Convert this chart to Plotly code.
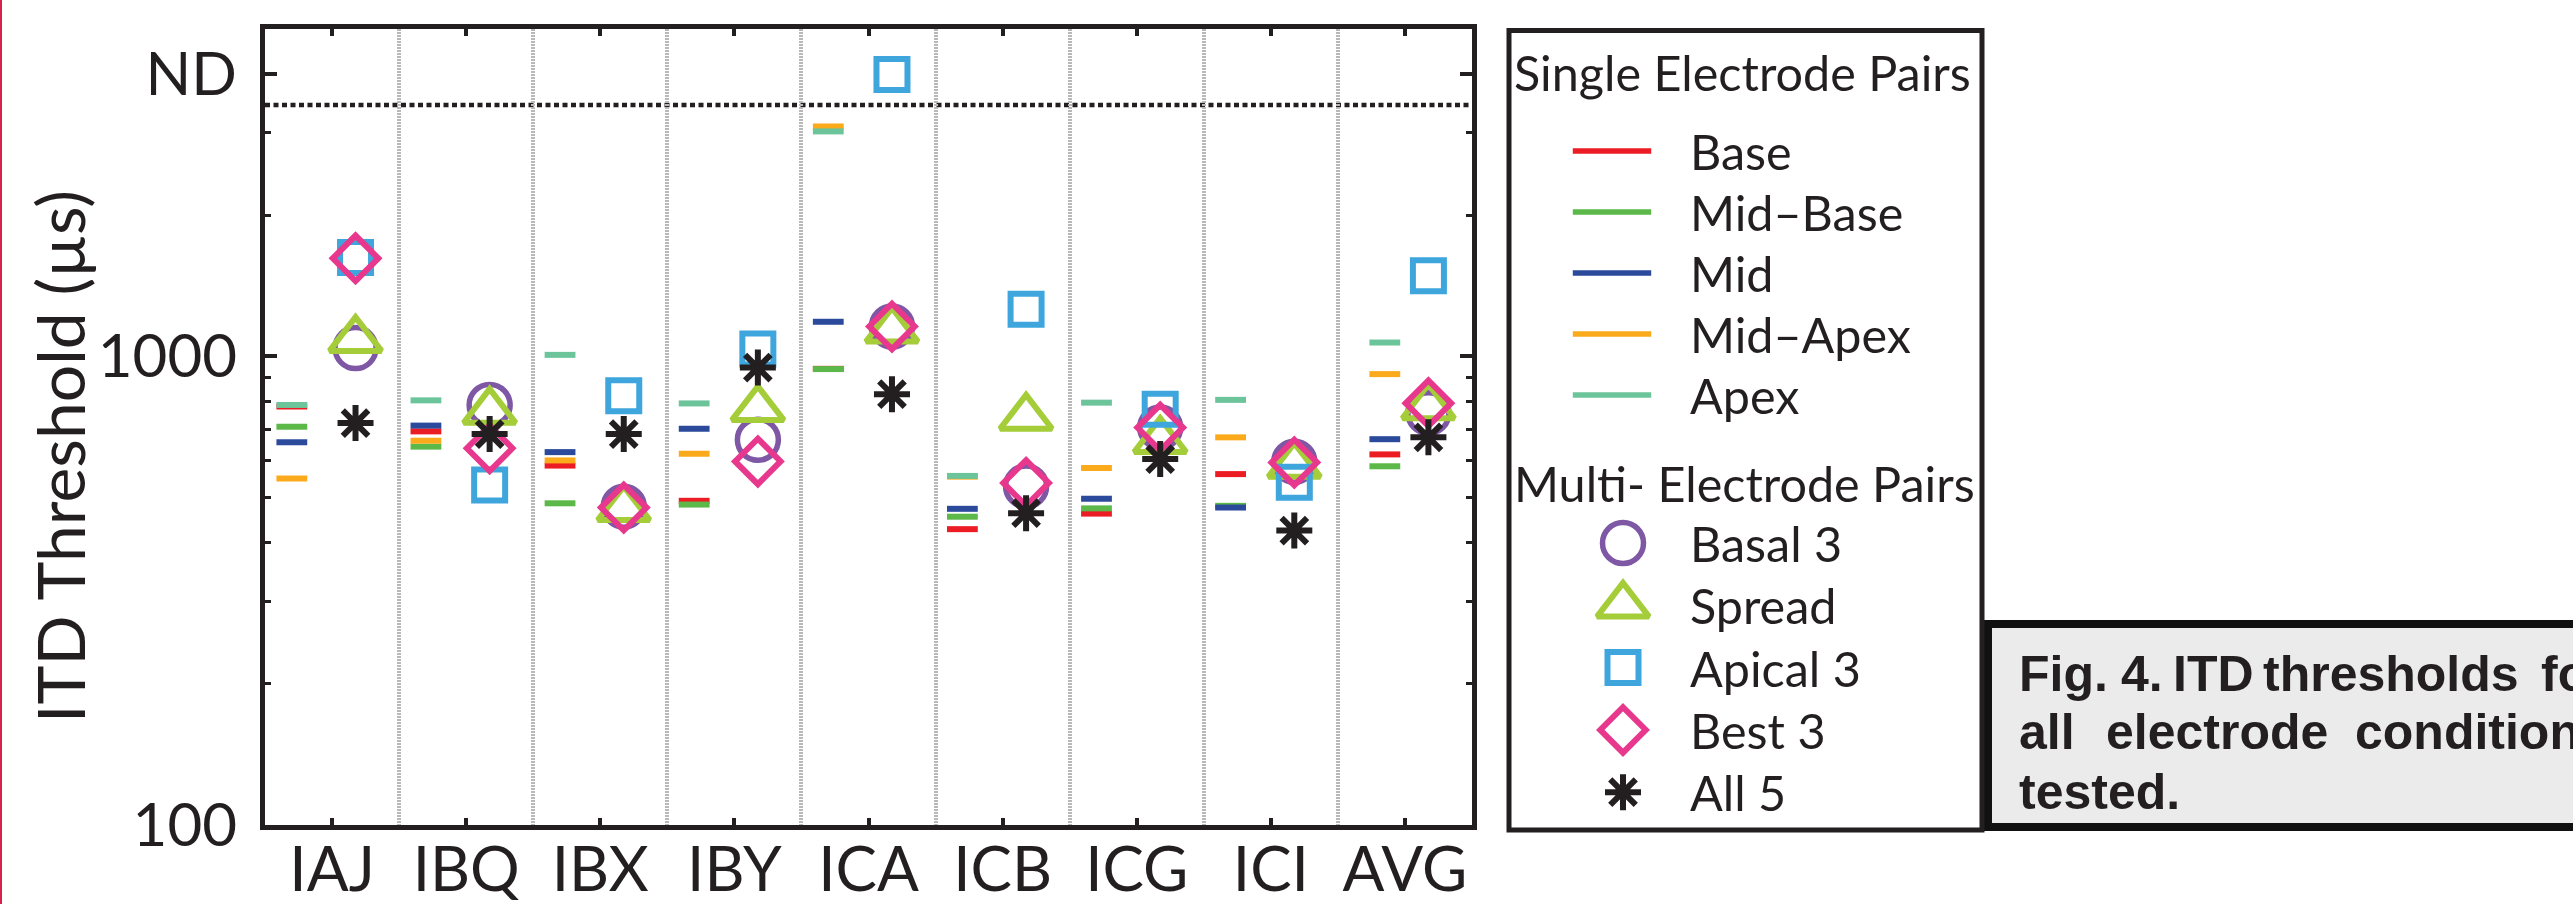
import numpy as np
import plotly.graph_objects as go

W, H = 2573, 904

# ---------------- data ----------------
categories = ["IAJ", "IBQ", "IBX", "IBY", "ICA", "ICB", "ICG", "ICI", "AVG"]

ND_VALUE = 4000      # "not determined" level (tick label ND)
ND_LIMIT = 3440      # dotted limit line

# single electrode pairs (ITD threshold, µs)
base     = [782, 692, 585, 492, 941, 428, 462, 561, 618]
mid_base = [708, 642, 486, 483, 940, 455, 474, 480, 583]
mid      = [656, 712, 625, 701, 1186, 473, 497, 476, 666]
mid_apex = [549, 661, 600, 620, 3097, 554, 578, 672, 917]
apex     = [788, 806, 1008, 794, 3023, 556, 797, 808, 1071]

# multi-electrode pairs (ITD threshold, µs)
basal3  = [1042, 788, 478, 664, 1159, 528, 705, 596, 757]
spread  = [1086, 763, 473, 773, 1137, 741, 661, 585, 780]
apical3 = [1627, 532, 824, 1037, ND_VALUE, 1262, 772, 539, 1487]
best3   = [1620, 637, 476, 597, 1159, 537, 705, 594, 795]
all5    = [721, 683, 683, 947, 831, 463, 604, 425, 672]

y_tickvals = [100, 1000, ND_VALUE]
y_ticktext = ["100", "1000", "ND"]
y_minor = [200, 300, 400, 500, 600, 700, 800, 900, 2000, 3000]

# ---------------- styles ----------------
INK = "#231f20"
FONT = "Lato"
single_series = [
    ("Base", base, "#ec1c24"),
    ("Mid\u2013Base", mid_base, "#5cb848"),
    ("Mid", mid, "#2b4a9c"),
    ("Mid\u2013Apex", mid_apex, "#fbaa1c"),
    ("Apex", apex, "#6cc49a"),
]
multi_series = [
    ("Basal 3", basal3, "circle-open", "#7e57a5", 41, 5.5),
    ("Spread", spread, "triangle-up-open", "#a5cd39", 45, 6),
    ("Apical 3", apical3, "square-open", "#3ea6dd", 31, 6),
    ("Best 3", best3, "diamond-open", "#e8388d", 35, 6),
    ("All 5", all5, "asterisk-open", INK, 30, 6),
]

n = len(categories)
x_idx = np.arange(1, n + 1)
line_off = np.array([-0.30] * (n - 1) + [-0.15])
mark_off = 0.175

fig = go.Figure()

for name, vals, col in single_series:
    fig.add_trace(go.Scatter(
        x=x_idx + line_off, y=vals, mode="markers", name=name, showlegend=False,
        marker=dict(symbol="line-ew", size=22, color=col,
                    line=dict(color=col, width=6)),
        cliponaxis=False))

for name, vals, sym, col, sz, lw in multi_series:
    fig.add_trace(go.Scatter(
        x=x_idx + mark_off, y=vals, mode="markers", name=name, showlegend=False,
        marker=dict(symbol=sym, size=sz, color=col, line=dict(color=col, width=lw)),
        cliponaxis=False))

# ---------------- hand-built legend (pixel-space overlay axes) ----------------
LEG_LINE_X, LEG_MARK_X, LEG_TEXT_X, LEG_TITLE_X = 1612, 1623, 1689, 1513
S_Y0, S_GAP = 151, 61
M_Y0, M_GAP = 543, 62.3
for i, (name, vals, col) in enumerate(single_series):
    yy = S_Y0 + i * S_GAP
    fig.add_trace(go.Scatter(
        x=[LEG_LINE_X], y=[yy], xaxis="x2", yaxis="y2", mode="markers",
        showlegend=False, hoverinfo="skip",
        marker=dict(symbol="line-ew", size=56, color=col, line=dict(color=col, width=5.5))))
for i, (name, vals, sym, col, sz, lw) in enumerate(multi_series):
    yy = M_Y0 + i * M_GAP
    fig.add_trace(go.Scatter(
        x=[LEG_MARK_X], y=[yy], xaxis="x2", yaxis="y2", mode="markers",
        showlegend=False, hoverinfo="skip",
        marker=dict(symbol=sym, size=sz, color=col, line=dict(color=col, width=lw))))

annotations = []
def px_ann(text, x, y, size, xanchor="left", weight=None, family=FONT, angle=0):
    f = dict(family=family, size=size, color=INK)
    if weight:
        f["weight"] = weight
    annotations.append(dict(text=text, x=x / W, y=1 - y / H, xref="paper", yref="paper",
                            xanchor=xanchor, yanchor="middle", showarrow=False,
                            font=f, textangle=angle, borderpad=0))

px_ann("Single Electrode Pairs", LEG_TITLE_X, 72, 48.5)
px_ann("Multi- Electrode Pairs", LEG_TITLE_X, 483, 48.5)
for i, (name, vals, col) in enumerate(single_series):
    px_ann(name, LEG_TEXT_X, S_Y0 + i * S_GAP, 48.5)
for i, (name, *_r) in enumerate(multi_series):
    px_ann(name, LEG_TEXT_X, M_Y0 + i * M_GAP, 48.5)

# y-axis title
px_ann("ITD Threshold (\u00b5s)", 59, 457, 66, xanchor="center", angle=-90)

# caption box text (justified lines placed word by word)
CAP = "Liberation Sans, Arial, sans-serif"
caption_lines = [
    (674, [("Fig.", 2018), ("4.", 2120), ("ITD", 2172), ("thresholds", 2262), ("for", 2540)]),
    (732, [("all", 2018), ("electrode", 2105), ("conditions", 2354)]),
    (792, [("tested.", 2018)]),
]
for yy, words in caption_lines:
    for word, xw in words:
        px_ann(word, xw, yy, 50, weight=700, family=CAP)

shapes = [
    # caption box
    dict(type="rect", xref="paper", yref="paper", x0=1988 / W, x1=2620 / W,
         y0=1 - 827 / H, y1=1 - 624 / H, line=dict(color="#111111", width=8),
         fillcolor="#ebebeb", layer="below"),
    # ND limit (dotted)
    dict(type="line", xref="x domain", yref="y", x0=0, x1=1, y0=ND_LIMIT, y1=ND_LIMIT,
         line=dict(color=INK, width=4.5, dash="5px,3.5px"), layer="below"),
    # legend box
    dict(type="rect", xref="paper", yref="paper", x0=1509 / W, x1=1982 / W,
         y0=1 - 830 / H, y1=1 - 30.5 / H, line=dict(color=INK, width=5)),
    # thin red page edge
    dict(type="line", xref="paper", yref="paper", x0=1 / W, x1=1 / W, y0=0, y1=1,
         line=dict(color="#d9214f", width=2)),
]

fig.update_layout(
    width=W, height=H, autosize=False, margin=dict(l=0, r=0, t=0, b=0, autoexpand=False),
    paper_bgcolor="white", plot_bgcolor="rgba(0,0,0,0)",
    showlegend=False, annotations=annotations, shapes=shapes,
    xaxis=dict(domain=[265 / W, 1472 / W], range=[0.5, n + 0.5], automargin=False,
               tickmode="array", tickvals=x_idx, ticktext=categories,
               ticks="inside", ticklen=7, tickwidth=4, tickcolor=INK,
               showline=True, linewidth=5, linecolor=INK, mirror="ticks",
               showgrid=False, zeroline=False, ticklabelstandoff=-13,
               tickfont=dict(family=FONT, size=62, color=INK),
               minor=dict(tickmode="array", tickvals=list(x_idx[:-1] + 0.5), ticks="",
                          showgrid=True, gridcolor="#b8b8b8", griddash="2px,1px",
                          gridwidth=4)),
    yaxis=dict(domain=[1 - 825 / H, 1 - 29 / H], type="log", automargin=False,
               range=[2, np.log10(5000)],
               tickmode="array", tickvals=y_tickvals, ticktext=y_ticktext,
               ticks="inside", ticklen=12, tickwidth=4, tickcolor=INK,
               showline=True, linewidth=5, linecolor=INK, mirror="ticks",
               showgrid=False, zeroline=False, ticklabelstandoff=11,
               tickfont=dict(family=FONT, size=60, color=INK),
               minor=dict(tickmode="array", tickvals=y_minor, ticks="inside",
                          ticklen=6, tickwidth=3, tickcolor=INK, showgrid=False)),
    xaxis2=dict(domain=[0, 1], range=[0, W], visible=False, anchor="y2",
                automargin=False, fixedrange=True),
    yaxis2=dict(domain=[0, 1], range=[H, 0], visible=False, anchor="x2",
                automargin=False, fixedrange=True),
)

fig.write_html(
    "out.html",
    config={"responsive": False, "displayModeBar": False},
    post_script="document.documentElement.style.overflow='hidden';"
                "document.body.style.margin='0';document.body.style.overflow='hidden';",
)
